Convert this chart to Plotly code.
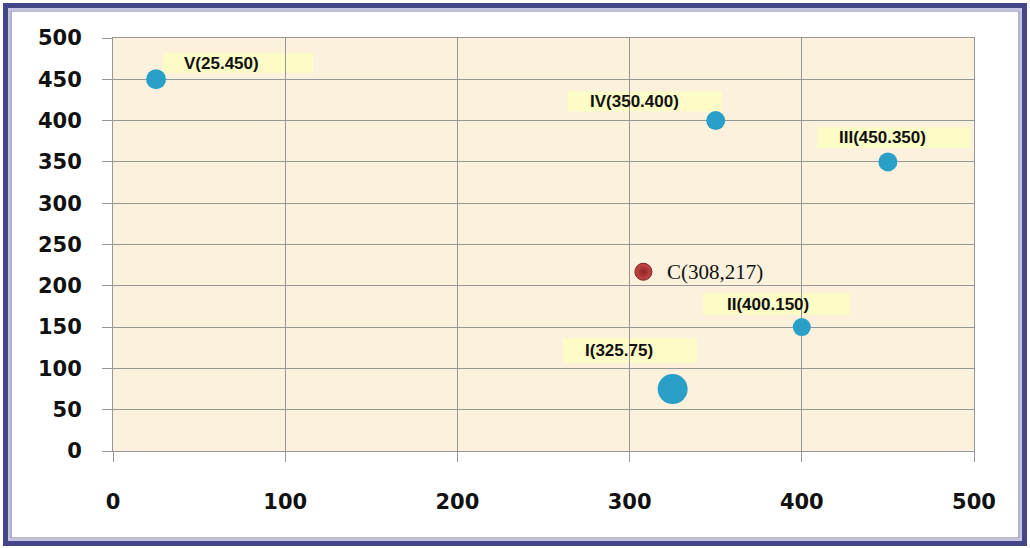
import plotly.graph_objects as go

# ---- data -------------------------------------------------------------
point_names = ["I", "II", "III", "IV", "V"]
point_x = [325, 400, 450, 350, 25]
point_y = [75, 150, 350, 400, 450]
point_labels = ["I(325.75)", "II(400.150)", "III(450.350)", "IV(350.400)", "V(25.450)"]

centre_x = [308]
centre_y = [217]
centre_label = "C(308,217)"

tick_values = [0, 100, 200, 300, 400, 500]
y_tick_values = [0, 50, 100, 150, 200, 250, 300, 350, 400, 450, 500]

# ---- styling ----------------------------------------------------------
marker_sizes = [30, 18, 19, 19, 20]
# label box / text placement around each point, in screen pixels
# (box left, box right, box bottom-up, box top-up, text left, text middle-up)
label_layout = [
    (-110, 24, 26, 51, -90, 39),
    (-99, 48, 12, 34, -77, 23),
    (-71, 82, 14, 35, -51, 24),
    (-148, 6, 9, 29, -128, 19),
    (7, 157, 6, 26, 26, 16),
]

W, H = 1030, 548
L, R, T, B = 113, 56, 38, 97
PW, PH = W - L - R, H - T - B


def px(x):
    return (x - L) / PW


def py(y):
    return (H - B - y) / PH


TEAL = "#2a9fc8"
GRID = "#979797"

fig = go.Figure()

fig.add_trace(go.Scatter(
    x=point_x, y=point_y, mode="markers",
    marker=dict(size=marker_sizes, color=TEAL, opacity=1, line=dict(width=0)),
    hoverinfo="skip", showlegend=False,
))

# centre point: red sphere look (light core fading to a dark rim)
fig.add_trace(go.Scatter(
    x=centre_x, y=centre_y, mode="markers",
    marker=dict(size=17, color="#c94848", symbol="circle", opacity=1,
                gradient=dict(type="radial", color="#8a2424"),
                line=dict(width=1, color="#7a1c1c")),
    hoverinfo="skip", showlegend=False,
))

shapes = []
annotations = []

# highlighted label boxes and their text
for x, y, text, (bx0, bx1, by0, by1, tx, ty) in zip(point_x, point_y, point_labels, label_layout):
    shapes.append(dict(
        type="rect", xref="x", yref="y", layer="below",
        xsizemode="pixel", ysizemode="pixel", xanchor=x, yanchor=y,
        x0=bx0, x1=bx1, y0=by0, y1=by1,
        fillcolor="#fdfcc6", line=dict(width=0),
    ))
    annotations.append(dict(
        x=x, y=y, xref="x", yref="y", text=text, showarrow=False,
        xanchor="left", yanchor="middle", xshift=tx, yshift=ty,
        font=dict(family="Liberation Sans, Arial", size=17, color="#111111", weight="bold"),
    ))

annotations.append(dict(
    x=centre_x[0], y=centre_y[0], xref="x", yref="y", text=centre_label,
    showarrow=False, xanchor="left", yanchor="middle", xshift=22, yshift=0,
    font=dict(family="Liberation Serif, Times New Roman", size=21, color="#111111"),
))

# double frame around the whole chart
shapes.append(dict(type="rect", xref="paper", yref="paper", layer="above",
                   x0=px(5.5), x1=px(1024.5), y0=py(543.5), y1=py(5.5),
                   line=dict(color="#45458a", width=5)))
shapes.append(dict(type="rect", xref="paper", yref="paper", layer="above",
                   x0=px(9), x1=px(1021), y0=py(540), y1=py(9),
                   line=dict(color="#c4c4e0", width=2)))
shapes.append(dict(type="rect", xref="paper", yref="paper", layer="above",
                   x0=px(11), x1=px(1019), y0=py(538), y1=py(11),
                   line=dict(color="#7c7cae", width=1.2)))

tick_font = dict(family="DejaVu Sans", size=21, color="#111111", weight="bold")

fig.update_layout(
    width=W, height=H,
    margin=dict(l=L, r=R, t=T, b=B, pad=0),
    paper_bgcolor="white",
    plot_bgcolor="#fbf1dc",
    shapes=shapes,
    annotations=annotations,
    xaxis=dict(
        range=[0, 500], tickvals=tick_values, showgrid=True, gridcolor=GRID, gridwidth=1,
        zeroline=False, showline=True, linecolor=GRID, linewidth=1, mirror=True,
        ticks="outside", ticklen=10, tickcolor=GRID, tickwidth=1,
        tickfont=tick_font, ticklabelstandoff=22, fixedrange=True,
    ),
    yaxis=dict(
        range=[0, 500], tickvals=y_tick_values, showgrid=True, gridcolor=GRID, gridwidth=1,
        zeroline=False, showline=True, linecolor=GRID, linewidth=1, mirror=True,
        ticks="outside", ticklen=10, tickcolor=GRID, tickwidth=1,
        tickfont=tick_font, ticklabelstandoff=16, fixedrange=True,
    ),
)

fig.write_html("out.html", config={"displayModeBar": False})
